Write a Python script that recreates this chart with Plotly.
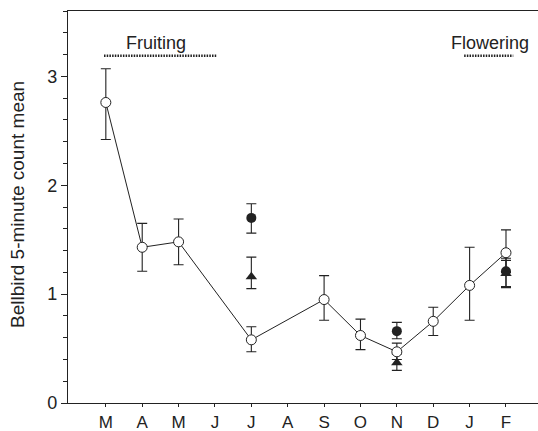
import plotly.graph_objects as go

# ---- data ----
month_labels = ["M", "A", "M", "J", "J", "A", "S", "O", "N", "D", "J", "F"]

# main series (open circles)
main_x = [0, 1, 2, 4, 6, 7, 8, 9, 10, 11]
main_mean = [2.76, 1.43, 1.48, 0.58, 0.95, 0.62, 0.47, 0.75, 1.08, 1.38]
main_upper = [3.07, 1.65, 1.69, 0.70, 1.17, 0.77, 0.55, 0.88, 1.43, 1.59]
main_lower = [2.42, 1.21, 1.27, 0.47, 0.76, 0.49, 0.40, 0.62, 0.76, 1.20]

# filled circles
circ_x = [4, 8, 11]
circ_mean = [1.70, 0.66, 1.21]
circ_upper = [1.83, 0.74, 1.33]
circ_lower = [1.56, 0.59, 1.07]

# filled triangles
tri_x = [4, 8, 11]
tri_mean = [1.16, 0.37, 1.19]
tri_upper = [1.34, 0.45, 1.31]
tri_lower = [1.05, 0.30, 1.06]

# season bars (month-index spans)
fruit_span = [-0.05, 3.05]
flower_span = [9.85, 11.2]
season_y = 3.19

INK = "#222222"
FONT = "Liberation Sans, Arial, Helvetica, sans-serif"


def err(mean, up, lo):
    return dict(
        type="data",
        symmetric=False,
        array=[u - m for u, m in zip(up, mean)],
        arrayminus=[m - l for m, l in zip(mean, lo)],
        color=INK,
        thickness=1.1,
        width=5,
    )


fig = go.Figure()

fig.add_trace(go.Scatter(
    x=tri_x, y=tri_mean, mode="markers",
    marker=dict(symbol="triangle-up", size=10, color=INK, line=dict(width=0)),
    error_y=err(tri_mean, tri_upper, tri_lower),
    showlegend=False,
))
fig.add_trace(go.Scatter(
    x=circ_x, y=circ_mean, mode="markers",
    marker=dict(symbol="circle", size=10, color=INK, line=dict(width=0)),
    error_y=err(circ_mean, circ_upper, circ_lower),
    showlegend=False,
))
fig.add_trace(go.Scatter(
    x=main_x, y=main_mean, mode="lines+markers",
    line=dict(color=INK, width=1),
    marker=dict(symbol="circle", size=10, color="white", line=dict(color=INK, width=1)),
    error_y=err(main_mean, main_upper, main_lower),
    showlegend=False,
))

# season dotted lines
for span in (fruit_span, flower_span):
    fig.add_shape(type="line", xref="x", yref="y",
                  x0=span[0], x1=span[1], y0=season_y, y1=season_y,
                  line=dict(color=INK, width=2.5, dash="1.5px,1.2px"))

fig.add_annotation(x=1.39, y=3.31, xref="x", yref="y", text="Fruiting",
                   showarrow=False, font=dict(size=18, color=INK, family=FONT))
fig.add_annotation(x=10.55, y=3.31, xref="x", yref="y", text="Flowering",
                   showarrow=False, font=dict(size=18, color=INK, family=FONT))

# y-axis title as annotation
fig.add_annotation(x=0, xref="paper", xshift=-51, y=0.505, yref="paper",
                   text="Bellbird 5-minute count mean", textangle=-90,
                   showarrow=False, xanchor="center", yanchor="middle",
                   font=dict(size=19, color=INK, family=FONT))

fig.update_layout(
    width=538, height=431,
    margin=dict(l=68, r=0, t=11, b=28),
    paper_bgcolor="white", plot_bgcolor="white",
    font=dict(family=FONT, color=INK),
    xaxis=dict(
        range=[-1.04, 11.88],
        tickmode="array",
        tickvals=list(range(len(month_labels))),
        ticktext=month_labels,
        ticks="outside", ticklen=3, tickwidth=1, tickcolor=INK,
        showline=True, linecolor=INK, linewidth=1.3, mirror=True,
        showgrid=False, zeroline=False,
        tickfont=dict(size=17, color=INK, family=FONT),
        automargin=False,
    ),
    yaxis=dict(
        range=[0, 3.6],
        tickmode="array", tickvals=[0, 1, 2, 3],
        ticks="outside", ticklen=6, tickwidth=1, tickcolor=INK,
        minor=dict(dtick=0.2, ticks="outside", ticklen=4, tickcolor=INK, showgrid=False),
        showline=True, linecolor=INK, linewidth=1.3,
        showgrid=False, zeroline=False,
        tickfont=dict(size=18, color=INK, family=FONT),
        automargin=False,
    ),
)

fig.write_html(
    "out.html",
    config={"displayModeBar": False},
    post_script="document.body.style.margin='0';document.body.style.overflow='hidden';",
)
